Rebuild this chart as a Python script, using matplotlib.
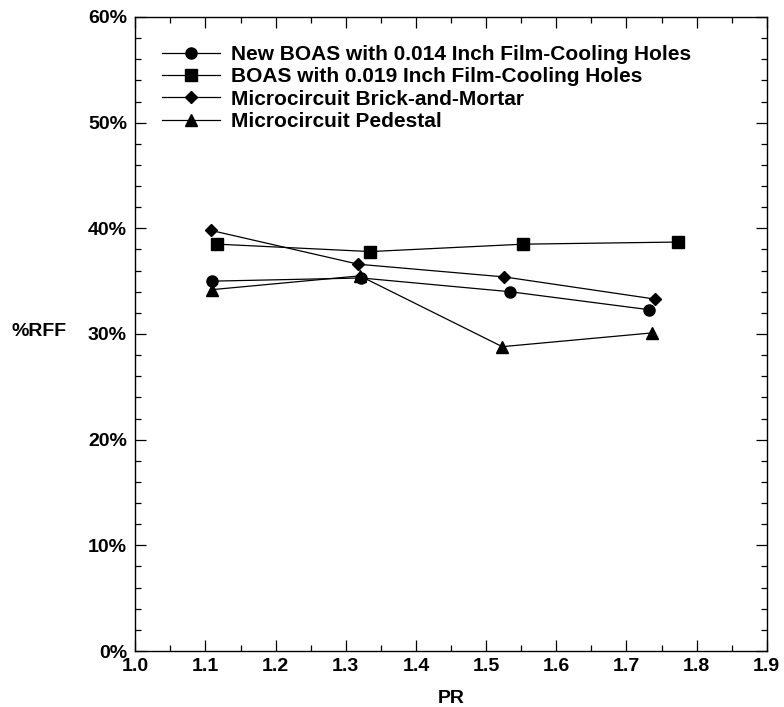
import matplotlib
matplotlib.use("Agg")
import matplotlib.pyplot as plt
from matplotlib.ticker import MultipleLocator, FuncFormatter

plt.rcParams['font.family'] = ['Liberation Sans', 'DejaVu Sans']
plt.rcParams['font.weight'] = 'bold'

# Pressure ratio (PR) and %RFF for each cooling configuration
pr_new014 = [1.110, 1.322, 1.534, 1.732]
rff_new014 = [35.0, 35.3, 34.0, 32.3]

pr_old019 = [1.117, 1.335, 1.553, 1.773]
rff_old019 = [38.5, 37.8, 38.5, 38.7]

pr_brick = [1.108, 1.318, 1.526, 1.741]
rff_brick = [39.8, 36.6, 35.4, 33.3]

pr_pedestal = [1.110, 1.320, 1.523, 1.736]
rff_pedestal = [34.2, 35.5, 28.8, 30.1]

labels = [
    "New BOAS with 0.014 Inch Film-Cooling Holes",
    "BOAS with 0.019 Inch Film-Cooling Holes",
    "Microcircuit Brick-and-Mortar",
    "Microcircuit Pedestal",
]

fig = plt.figure(figsize=(7.84, 7.07), dpi=100)
ax = fig.add_axes([0.1726, 0.0792, 0.8054, 0.8968])

ax.plot(pr_new014, rff_new014, color='black', lw=0.9, marker='o', ms=8, label=labels[0])
ax.plot(pr_old019, rff_old019, color='black', lw=0.9, marker='s', ms=9, label=labels[1])
ax.plot(pr_brick, rff_brick, color='black', lw=0.9, marker='D', ms=6.5, label=labels[2])
ax.plot(pr_pedestal, rff_pedestal, color='black', lw=0.9, marker='^', ms=9, label=labels[3])

ax.set_xlim(1.0, 1.9)
ax.set_ylim(0, 60)
ax.xaxis.set_major_locator(MultipleLocator(0.1))
ax.xaxis.set_minor_locator(MultipleLocator(0.05))
ax.yaxis.set_major_locator(MultipleLocator(10))
ax.yaxis.set_minor_locator(MultipleLocator(2))
ax.xaxis.set_major_formatter(FuncFormatter(lambda v, p: f"{v:.1f}"))
ax.yaxis.set_major_formatter(FuncFormatter(lambda v, p: f"{v:.0f}%"))

ax.tick_params(which='both', direction='in', top=True, right=True, width=0.9,
               labelsize=14)
ax.tick_params(which='major', length=8)
ax.tick_params(which='minor', length=4.5)
ax.tick_params(axis='x', which='major', pad=5)
ax.tick_params(axis='y', which='major', pad=6)
for s in ax.spines.values():
    s.set_linewidth(1.0)

ax.set_xlabel("PR", fontsize=14, fontweight='bold', labelpad=11)
ax.set_ylabel("%RFF", fontsize=14, fontweight='bold', rotation=0, labelpad=0)
ax.yaxis.set_label_coords(-0.152, 0.49)

leg = ax.legend(loc='upper left', bbox_to_anchor=(0.042, 0.956), frameon=False,
                fontsize=15, handlelength=2.8, handletextpad=0.5, labelspacing=0.16,
                borderaxespad=0, borderpad=0)
for t in leg.get_texts():
    t.set_fontweight('bold')

fig.savefig("out.png", dpi=100)
